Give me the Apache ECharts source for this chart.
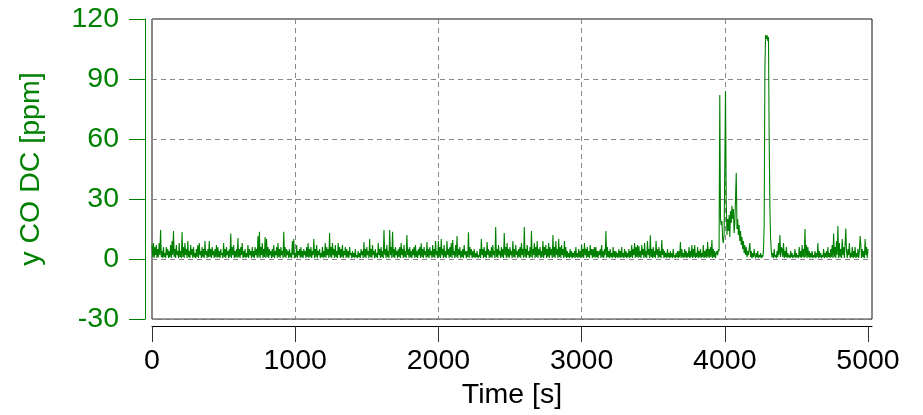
<!DOCTYPE html>
<html>
<head>
<meta charset="utf-8">
<script src="https://cdn.jsdelivr.net/npm/echarts@6/dist/echarts.min.js"></script>
<style>
html,body{margin:0;padding:0;background:#fff;}
#chart{width:923px;height:415px;}
</style>
</head>
<body>
<div id="chart"></div>
<script>
// Sampling: one value every 5 s
const timeStepS = 5;
// CO concentration [ppm], 0 - 995 s
const coSeg1 = [
  7, 1, 8, 0.5, 6, 2, 7, 0.5, 5, 1, 8, 2, 14.5, 1, 4, 0.5, 6, 1, 3, 0.5,
  6, 2, 5, 0.5, 4, 1, 7, 0.5, 9, 2, 14, 1, 5, 0.5, 7, 2, 4, 0.5, 8, 1,
  4, 0.5, 13.5, 1, 6, 0.5, 8, 2, 5, 0.5, 9, 1, 4, 0.5, 7, 2, 5, 0.5, 6, 1,
  3, 0.5, 5, 1, 7, 0.5, 8, 2, 4, 0.5, 6, 1, 5, 0.5, 9, 2, 4, 0.5, 5, 1,
  9, 1, 5, 0.5, 6, 2, 4, 0.5, 5, 1, 7, 0.5, 6, 1, 4, 0.5, 5, 2, 3, 0.5,
  8, 1, 5, 0.5, 6, 2, 4, 0.5, 5, 1, 12.8, 0.5, 6, 2, 7, 0.5, 4, 1, 5, 0.5,
  10.5, 1, 5, 0.5, 6, 2, 8, 0.5, 4, 1, 5, 0.5, 3, 1, 7, 0.5, 5, 2, 4, 0.5,
  6, 1, 4, 0.5, 6, 2, 5, 0.5, 11.4, 1, 13.7, 0.5, 6, 2, 8, 0.5, 5, 1, 11, 0.5,
  10, 1, 6, 0.5, 5, 2, 4, 0.5, 5, 1, 7, 0.5, 4, 2, 6, 0.5, 8, 1, 5, 0.5,
  6, 2, 4, 0.5, 13.7, 1, 6, 0.5, 5, 2, 4, 0.5, 5, 1, 3, 0.5, 9, 2, 10, 0.5
];
// 1000 - 1995 s
const coSeg2 = [
  3, 1, 7, 0.5, 4, 2, 5, 0.5, 6, 1, 4, 0.5, 5, 2, 4, 0.5, 6, 1, 8, 0.5,
  5, 1, 6, 0.5, 4, 2, 10, 0.5, 5, 1, 7, 0.5, 4, 2, 5, 0.5, 3, 1, 6, 0.5,
  4, 1, 8, 0.5, 6, 2, 5, 0.5, 13, 1, 6, 0.5, 8, 2, 5, 0.5, 7, 1, 4, 0.5,
  8, 2, 6, 0.5, 5, 1, 7, 0.5, 4, 2, 6, 0.5, 5, 1, 4, 0.5, 6, 2, 3, 0.5,
  4, 1, 3, 0.5, 5, 1, 2, 0.5, 4, 1, 3, 0.5, 5, 2, 4, 0.5, 8.5, 1, 5, 0.5,
  6, 2, 4, 0.5, 10, 1, 5, 0.5, 7, 2, 4, 0.5, 5, 1, 3, 0.5, 8, 2, 5, 0.5,
  6, 1, 4, 0.5, 14.5, 2, 5, 0.5, 7, 1, 4, 0.5, 14.5, 2, 6, 0.5, 13.6, 1, 5, 0.5,
  6, 2, 4, 0.5, 5, 1, 6, 0.5, 8, 2, 5, 0.5, 7, 1, 4, 0.5, 12, 2, 5, 0.5,
  6, 1, 4, 0.5, 5, 2, 6, 0.5, 7, 1, 4, 0.5, 5, 2, 6, 0.5, 7.9, 1, 5, 0.5,
  6, 2, 4, 0.5, 8.5, 1, 5, 0.5, 6, 2, 4, 0.5, 7, 1, 5, 0.5, 9, 2, 4, 0.5
];
// 2000 - 2995 s
const coSeg3 = [
  9, 1, 6, 0.5, 10, 2, 5, 0.5, 7, 1, 4, 0.5, 9, 2, 5, 0.5, 6, 1, 8, 0.5,
  9.5, 2, 4, 0.5, 7, 1, 11.5, 0.5, 5, 2, 6, 0.5, 4, 1, 5, 0.5, 7, 2, 4, 0.5,
  4, 1, 13.4, 0.5, 6, 2, 5, 0.5, 4, 1, 5, 0.5, 3, 1, 4, 0.5, 2, 1, 5, 0.5,
  10, 2, 5, 0.5, 6, 1, 4, 0.5, 8.5, 2, 5, 0.5, 4, 1, 6, 0.5, 7, 2, 4, 0.5,
  16, 1, 5, 0.5, 7, 2, 4, 0.5, 6, 1, 5, 0.5, 13, 2, 6, 0.5, 8, 1, 5, 0.5,
  6, 2, 4, 0.5, 9, 1, 5, 0.5, 7, 2, 4, 0.5, 5, 1, 6, 0.5, 8, 2, 5, 0.5,
  16, 1, 5, 0.5, 7, 2, 4, 0.5, 6, 1, 14, 0.5, 5, 2, 8, 0.5, 6, 1, 9, 0.5,
  5, 2, 6, 0.5, 4, 1, 9, 0.5, 6, 2, 7, 0.5, 5, 1, 8, 0.5, 6, 2, 5, 0.5,
  12, 1, 6, 0.5, 9, 2, 5, 0.5, 10, 1, 6, 0.5, 7, 2, 5, 0.5, 9, 1, 6, 0.5,
  4, 1, 3, 0.5, 5, 1, 4, 0.5, 3, 1, 4, 0.5, 6, 1, 3, 0.5, 5, 1, 4, 0.5
];
// 3000 - 3995 s
const coSeg4 = [
  7, 1, 5, 0.5, 8, 2, 5, 0.5, 6, 1, 4, 0.5, 7, 2, 5, 0.5, 5, 1, 6, 0.5,
  6, 1, 4, 0.5, 4, 2, 5, 0.5, 7, 1, 4, 0.5, 5, 2, 14, 0.5, 6, 1, 4, 0.5,
  5, 1, 3, 0.5, 6, 1, 4, 0.5, 4, 1, 3, 0.5, 5, 1, 4, 0.5, 6, 1, 3, 0.5,
  5, 1, 4, 0.5, 3, 1, 5, 0.5, 4, 1, 7, 0.5, 5, 2, 8, 0.5, 6, 1, 7, 0.5,
  6.5, 1, 4, 0.5, 7, 2, 5, 0.5, 8, 1, 4, 0.5, 9, 2, 5, 0.5, 11.9, 1, 5, 0.5,
  6, 1, 4, 0.5, 9, 2, 5, 0.5, 6, 1, 4, 0.5, 9.5, 2, 5, 0.5, 4, 1, 3, 0.5,
  5, 1, 3, 0.5, 4, 1, 3, 0.5, 5, 1, 2, 0.5, 3, 1, 4, 0.5, 4, 1, 8.5, 0.5,
  5, 1, 3, 0.5, 5, 1, 4, 0.5, 3, 1, 6, 0.5, 4, 1, 7, 0.5, 5, 1, 7, 0.5,
  3, 1, 6, 0.5, 4, 1, 5, 0.5, 3, 1, 7, 0.5, 4, 1, 5, 0.5, 8.5, 1, 5, 0.5,
  6, 1, 9.5, 0.5, 5, 1, 4, 0.5, 3, 4, 2, 5, 4, 82, 20, 17, 19, 10, 8, 12
];
// 4000 - 5000 s
const coSeg5 = [
  45, 84, 30, 12, 20, 14, 22, 11, 24, 18, 26.7, 20, 25, 13, 18, 30, 43, 15, 20, 12,
  17, 9, 14, 7, 11, 5, 9, 3, 7, 2, 6, 1, 4, 2, 5, 8, 1, 4, 0.5, 3,
  1, 5, 2, 0.5, 3, 1, 4, 0.5, 2, 1, 3, 0.5, 2, 1, 4, 17, 95, 112, 110, 112,
  109, 111, 60, 25, 10, 4, 1, 3, 0.5, 5, 1, 2, 0.5, 4, 1, 8, 2, 12, 1, 6,
  5, 1, 8, 0.5, 4, 1, 6, 0.5, 3, 1, 2, 0.5, 4, 1, 3, 0.5, 2, 1, 5, 0.5,
  3, 1, 2, 0.5, 6, 1, 4, 0.5, 7, 1, 5, 0.5, 15, 1, 7, 0.5, 6, 1, 4, 0.5,
  3, 1, 4, 0.5, 2, 1, 4, 0.5, 3, 1, 8, 0.5, 4, 1, 3, 0.5, 2, 1, 5, 0.5,
  3, 1, 4, 0.5, 6, 1, 3, 0.5, 5, 1, 7, 0.5, 12.8, 1, 6, 0.5, 9, 2, 16.5, 0.5,
  8, 1, 5, 0.5, 10, 2, 6, 0.5, 7, 15.3, 4, 0.5, 5, 2, 8, 0.5, 3, 1, 6, 0.5,
  4, 1, 6, 0.5, 3, 1, 5, 0.5, 4, 11.5, 7, 0.5, 5, 1, 4, 0.5, 10, 2, 6, 0.5,
  5
];
const xTicks = [0, 1000, 2000, 3000, 4000, 5000];
const xGridLines = [1000, 2000, 3000, 4000];
const xAxisEnd = 5028;   // plot frame extends slightly past the 5000 tick
const yTicks = [-30, 0, 30, 60, 90, 120];

const coAll = coSeg1.concat(coSeg2, coSeg3, coSeg4, coSeg5);
const seriesData = coAll.map((v, i) => [i * timeStepS, v]);

const GREEN = '#008000';
const FONT = 'Liberation Sans, Arial, sans-serif';
const DASH = {color: '#888', type: [5, 4], width: 1};
const chart = echarts.init(document.getElementById('chart'), null, {renderer: 'canvas'});
chart.setOption({
  animation: false,
  backgroundColor: '#ffffff',
  grid: {
    left: 152, right: 51, top: 19, bottom: 94,
    show: true, borderColor: '#111', borderWidth: 1, backgroundColor: 'transparent'
  },
  xAxis: [{
    type: 'value',
    min: xTicks[0], max: xAxisEnd,
    interval: xTicks[1] - xTicks[0],
    offset: 7,
    name: 'Time [s]',
    nameLocation: 'middle',
    nameGap: 53,
    nameTextStyle: {color: '#000', fontSize: 28.5, fontFamily: FONT},
    axisLine: {show: true, onZero: false, lineStyle: {color: '#000', width: 1}},
    axisTick: {show: true, length: 16, customValues: xTicks, lineStyle: {color: '#333'}},
    axisLabel: {color: '#000', fontSize: 28.5, fontFamily: FONT, margin: 21,
      customValues: xTicks, formatter: v => String(v)},
    splitLine: {show: false}
  }, {
    type: 'value',
    position: 'bottom',
    min: xTicks[0], max: xAxisEnd,
    interval: xTicks[1] - xTicks[0],
    axisLine: {show: false, onZero: false},
    axisTick: {show: false, customValues: xGridLines},
    axisLabel: {show: false},
    splitLine: {show: true, lineStyle: DASH}
  }],
  yAxis: {
    type: 'value',
    min: yTicks[0], max: yTicks[yTicks.length - 1],
    interval: yTicks[1] - yTicks[0],
    offset: 7,
    name: 'y CO DC [ppm]',
    nameLocation: 'middle',
    nameGap: 99,
    nameRotate: 90,
    nameTextStyle: {color: GREEN, fontSize: 28.5, fontFamily: FONT},
    axisLine: {show: true, onZero: false, lineStyle: {color: GREEN, width: 1}},
    axisTick: {show: true, length: 16, lineStyle: {color: GREEN}},
    axisLabel: {color: GREEN, fontSize: 28.5, fontFamily: FONT, margin: 26},
    splitLine: {show: true, lineStyle: DASH}
  },
  series: [{
    type: 'line',
    xAxisIndex: 0,
    data: seriesData,
    showSymbol: false,
    symbol: 'none',
    lineStyle: {color: GREEN, width: 1.1},
    itemStyle: {color: GREEN},
    z: 3
  }]
});
</script>
</body>
</html>
